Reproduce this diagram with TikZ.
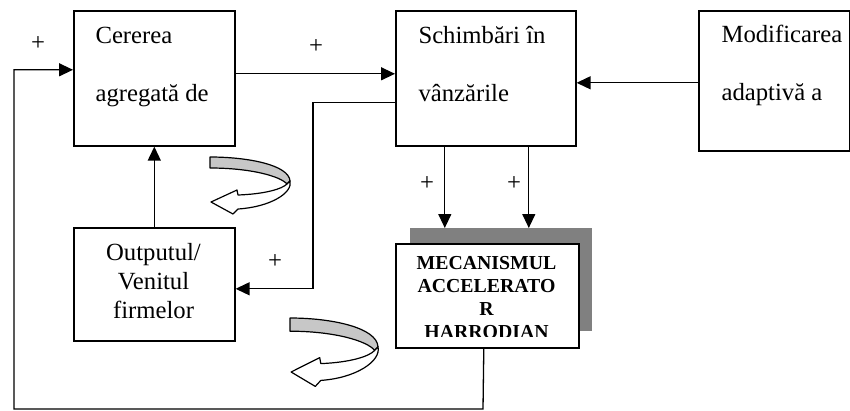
\documentclass[tikz,border=0pt]{standalone}
\usepackage{fontspec}
\setmainfont{Liberation Serif}
\usetikzlibrary{arrows.meta}
\newcommand{\bigtext}{\fontsize{24.7}{29}\selectfont}
\newcommand{\captext}{\bfseries\fontsize{19.8}{22.7}\selectfont}
\newcommand{\ribbonarrow}[2]{%
  \begin{scope}[shift={#1}, #2, line width=1.2pt, line join=round]
    \filldraw[fill=black!22] (0,0) .. controls (38,0) and (79,8) .. (80,24) -- (77,27)
      .. controls (70,19) and (40,11) .. (0,11) -- cycle;
    \filldraw[fill=white] (80,24) .. controls (83,36) and (60,50) .. (28,52) -- (23,57)
      -- (1,45) -- (27,33) -- (28,38) .. controls (55,37) and (72,32) .. (77,27) -- cycle;
  \end{scope}}

\tikzset{
  box/.style={draw, line width=1.6pt, fill=white, inner sep=0pt, anchor=north west},
  link/.style={line width=1.3pt},
  tip/.style={-{Triangle[length=14pt,width=13pt]}},
  plus/.style={font=\bigtext, inner sep=0pt}
}

\begin{document}
\begin{tikzpicture}[x=1pt, y=-1pt]
  \useasboundingbox (0,0) rectangle (850,410);

  \node[box, minimum width=161, minimum height=135] (cerere) at (73,10) {};
  \node[box, minimum width=180, minimum height=135] (schimb) at (395,10) {};
  \node[box, minimum width=151, minimum height=140] (modif) at (698,10) {};
  \node[box, minimum width=161, minimum height=113] (output) at (73,227) {};
  \node[fill=black!50, inner sep=0pt, anchor=north west, minimum width=182, minimum height=103] (shadow) at (410,228) {};
  \node[box, minimum width=183, minimum height=104] (mecanism) at (395,243) {};

  \node[anchor=base west, align=left, font=\bigtext] (cerere-t) at (92,101) {Cererea\\[29pt]agregată de};
  \node[anchor=base west, align=left, font=\bigtext] (schimb-t) at (415,101) {Schimbări în\\[29pt]vânzările};
  \node[anchor=base west, align=left, font=\bigtext] (modif-t) at (718,100) {Modificarea\\[29pt]adaptivă a};
  \node[anchor=base, align=center, font=\bigtext] (output-t) at (153.5,318) {Outputul/\\Venitul\\firmelor};
  \begin{scope}
    \clip (396,244) rectangle (577,336);
    \node[anchor=base, align=center, font=\captext] (mecanism-t) at (486.5,338) {MECANISMUL\\ACCELERATO\\R\\HARRODIAN};
  \end{scope}

  \coordinate (loop-r) at (483,409);
  \coordinate (loop-l) at (14,409);
  \draw[link, tip] ([xshift=-3.5pt]mecanism.south) -- (loop-r) -- (loop-l) |- ([yshift=8.5pt]cerere.west);
  \draw[link, tip] ([yshift=4.5pt]cerere.east) -- ([yshift=4.5pt]schimb.west);
  \draw[link, tip] ([yshift=-2pt]modif.west) -- ([yshift=-2pt]modif.west -| schimb.east);
  \draw[link, tip] ([yshift=-24.5pt]schimb.west) -- ++(-82,0) |- ([yshift=-4.5pt]output.east);
  \draw[link, tip] ([xshift=-41pt]schimb.south) -- ([xshift=-41pt]schimb.south |- shadow.north);
  \draw[link, tip] ([xshift=43pt]schimb.south) -- ([xshift=43pt]schimb.south |- shadow.north);
  \draw[link, tip] (output.north) -- (cerere.south);

  \node[plus] (p1) at (38,44) {+};
  \node[plus] (p2) at (316,47) {+};
  \node[plus] (p3) at (427,184) {+};
  \node[plus] (p4) at (514,184) {+};
  \node[plus] (p5) at (275,262) {+};

  \ribbonarrow{(210,157)}{}
  \ribbonarrow{(290,318)}{xscale=1.1, yscale=1.2}
\end{tikzpicture}
\end{document}
